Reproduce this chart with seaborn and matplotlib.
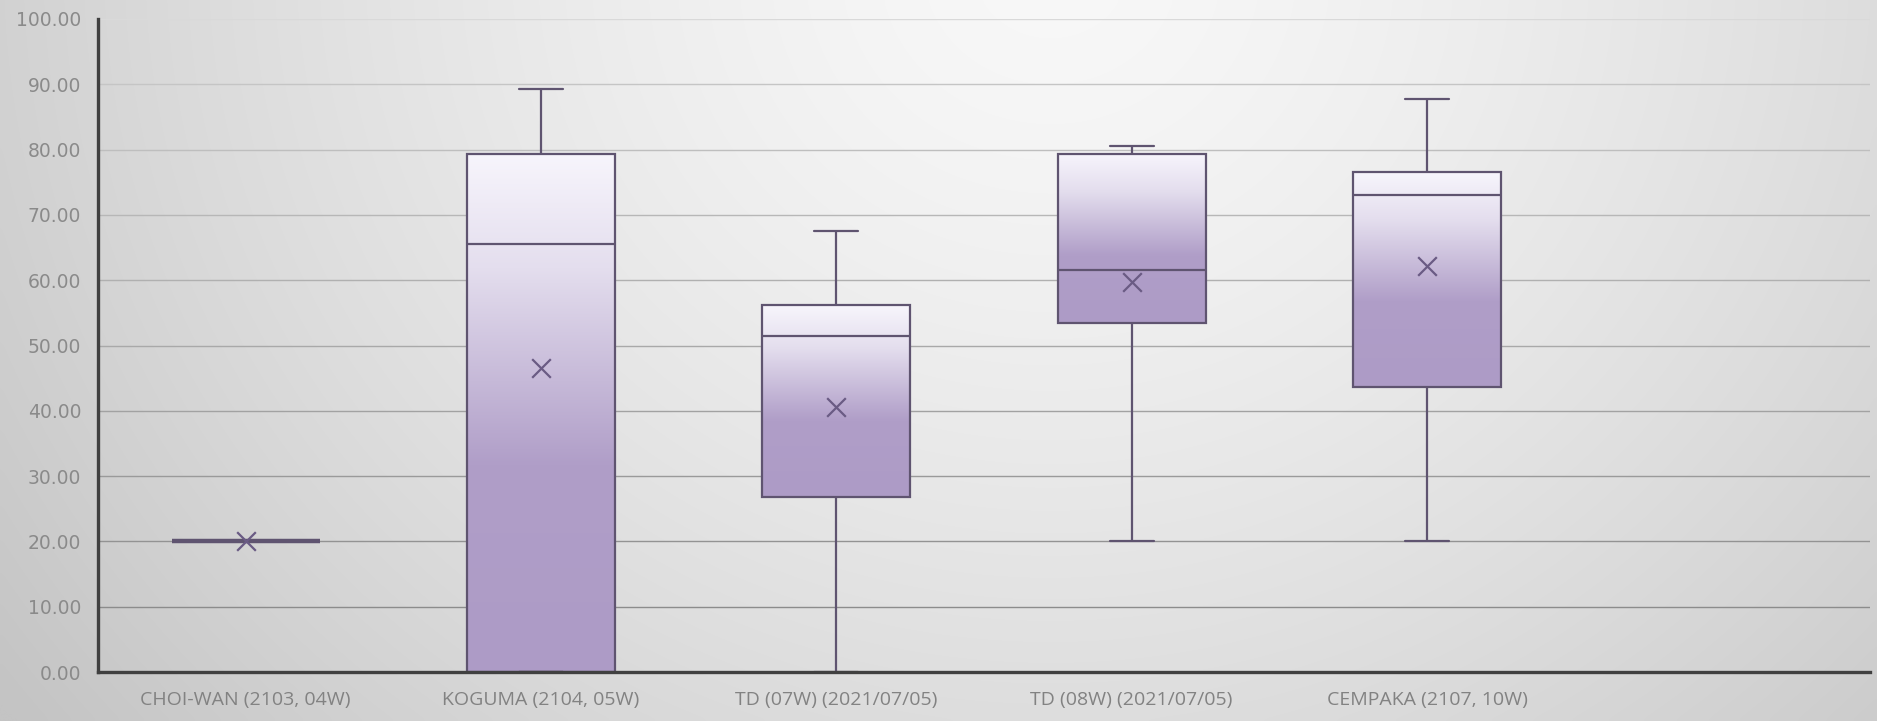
import numpy as np
import pandas as pd
import matplotlib
matplotlib.use("Agg")
import matplotlib.pyplot as plt
from matplotlib.colors import LinearSegmentedColormap
import seaborn as sns

# ---- data ----
categories = ["CHOI-WAN (2103, 04W)", "KOGUMA (2104, 05W)", "TD (07W) (2021/07/05)",
              "TD (08W) (2021/07/05)", "CEMPAKA (2107, 10W)"]
mins = [20.0, 0.0, 0.0, 20.0, 20.0]
q1s = [20.0, 0.0, 26.8, 53.4, 43.7]
medians = [20.0, 65.6, 51.5, 61.5, 73.1]
q3s = [20.0, 79.4, 56.2, 79.4, 76.5]
maxs = [20.0, 89.3, 67.6, 80.6, 87.7]
means = [20.0, 46.6, 40.6, 59.7, 62.1]
y_ticks = [0, 10, 20, 30, 40, 50, 60, 70, 80, 90, 100]

# long-form table: five summary values per category
rows = []
for c, a, b, m, d, e in zip(categories, mins, q1s, medians, q3s, maxs):
    for v in (a, b, m, d, e):
        rows.append({"storm": c, "value": v})
df = pd.DataFrame(rows)
mean_df = pd.DataFrame({"storm": categories, "mean": means})

sns.set_theme(style="white")
plt.rcParams["font.family"] = ["Open Sans", "DejaVu Sans"]

W, H = 1877, 721
fig = plt.figure(figsize=(W / 100, H / 100), dpi=100)

# background radial-ish gradient
bg = fig.add_axes([0, 0, 1, 1], zorder=-5)
xx, yy = np.meshgrid(np.linspace(0, 1, 400), np.linspace(1, 0, 160))
d = np.sqrt(((xx - 0.56) / 0.58) ** 2 + ((yy - 1.05) / 1.4) ** 2)
val = np.clip(248 - 40 * d ** 1.4, 196, 250) / 255.0
bg.imshow(np.dstack([val, val, val]), extent=[0, 1, 0, 1], aspect="auto", interpolation="bicubic")
bg.set_axis_off()

ax = fig.add_axes([98 / W, 1 - 672 / H, (1870 - 98) / W, (672 - 19) / H])
ax.set_facecolor("none")

line_c = "#5f5470"
sns.boxplot(data=df, x="storm", y="value", order=categories, whis=(0, 100), width=0.5,
            color="#b09ec8", linecolor=line_c, linewidth=1.6, fliersize=0, ax=ax, zorder=3)

# gradient fill inside boxes (light at the top, lavender lower down)
cmap = LinearSegmentedColormap.from_list(
    "box", [(0.0, "#f7f5fc"), (0.22, "#e4deee"), (0.6, "#b09ec8"), (1.0, "#ad9bc6")])
grad = np.linspace(0, 1, 256).reshape(-1, 1)
for p in list(ax.patches):
    verts = p.get_path().vertices
    x0, x1 = verts[:, 0].min(), verts[:, 0].max()
    y0, y1 = verts[:, 1].min(), verts[:, 1].max()
    p.set_facecolor("none")
    p.set_zorder(4)
    if y1 - y0 > 1e-6:
        ax.imshow(grad, cmap=cmap, extent=[x0, x1, y0, y1], aspect="auto", zorder=3.5,
                  origin="upper", interpolation="bicubic")

# caps narrower, lines above fill; collapsed box drawn as a thick bar
flat = {i for i in range(len(categories)) if q1s[i] == q3s[i]}
for ln in ax.lines:
    xd, yd = np.asarray(ln.get_xdata(), float), np.asarray(ln.get_ydata(), float)
    ln.set_zorder(5)
    if len(xd) == 2 and yd[0] == yd[1]:
        cx = xd.mean()
        if (xd[1] - xd[0]) < 0.45:
            ln.set_xdata([cx - 0.075, cx + 0.075])
        elif int(round(cx)) in flat:
            ln.set_linewidth(3.2)

# mean markers
sns.scatterplot(data=mean_df, x="storm", y="mean", marker="x", s=180, color="#6a5b84",
                linewidth=1.6, ax=ax, zorder=6, legend=False)

# gridlines (lighter at top, darker at bottom)
for t in y_ticks[1:]:
    g = 0.80 - (100 - t) / 90 * 0.25 if t < 100 else 0.85
    ax.axhline(t, color=(g, g, g), lw=1.0, zorder=1)

ax.set_xlim(-0.5, 5.5)
ax.set_ylim(0, 100)
ax.set_yticks(y_ticks)
ax.set_yticklabels([f"{t:.2f}" for t in y_ticks], fontfamily="DejaVu Sans")
ax.set_xlabel("")
ax.set_ylabel("")
ax.tick_params(axis="y", length=0, pad=12, labelsize=13.5, labelcolor="#8a8a8a")
ax.tick_params(axis="x", length=0, pad=14, labelsize=14, labelcolor="#828282")
for s in ("top", "right"):
    ax.spines[s].set_visible(False)
for s in ("left", "bottom"):
    ax.spines[s].set_color("#404040")
    ax.spines[s].set_linewidth(2.4)
    ax.spines[s].set_zorder(7)

fig.savefig("out.png", dpi=100)
